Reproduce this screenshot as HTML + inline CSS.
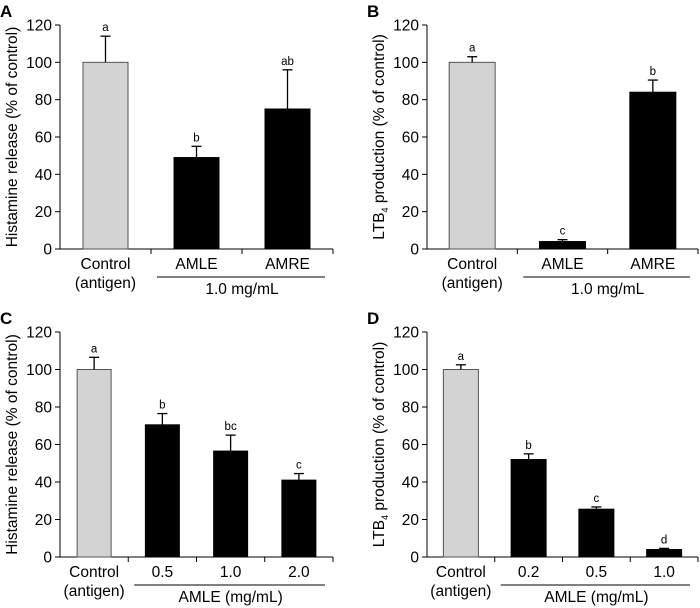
<!DOCTYPE html>
<html><head><meta charset="utf-8"><style>
html,body{margin:0;padding:0;background:#fff}
svg{display:block;font-family:"Liberation Sans",Arial,sans-serif}
</style></head><body>
<svg id="fig" width="700" height="608" viewBox="0 0 700 608" xmlns="http://www.w3.org/2000/svg"></svg>
<script>
const yTicks = [0,20,40,60,80,100,120];
const catsA = ["Control|(antigen)","AMLE","AMRE"];
const valsA = [100,49,75];
const errA = [14,6,21];
const sigA = ["a","b","ab"];
const catsB = ["Control|(antigen)","AMLE","AMRE"];
const valsB = [100,4,84];
const errB = [3,1,6.5];
const sigB = ["a","c","b"];
const catsC = ["Control|(antigen)","0.5","1.0","2.0"];
const valsC = [100,70.5,56.5,41];
const errC = [6.5,6,8.5,3.5];
const sigC = ["a","b","bc","c"];
const catsD = ["Control|(antigen)","0.2","0.5","1.0"];
const valsD = [100,52,25.5,4];
const errD = [2.5,3,1.2,0.6];
const sigD = ["a","b","c","d"];

const svg = document.getElementById('fig');
const NS = "http://www.w3.org/2000/svg";
function mk(tag, attrs, parent){ const e=document.createElementNS(NS,tag); for(const k in attrs) e.setAttribute(k,attrs[k]); (parent||svg).appendChild(e); return e; }

function panel(p){
  const g = mk('g',{});
  
  
  const y = v => p.y0 - (v/120)*(p.y0-p.y120);
  // panel letter
  const L = mk('text',{x:p.ax-60,y:p.y120-8,'font-size':17,'font-weight':'bold'},g); L.textContent=p.letter;
   
  // y axis
  const ya = mk('line',{x1:p.ax,y1:p.y120,x2:p.ax,y2:p.y0,stroke:'#000','stroke-width':1},g);
   
  yTicks.forEach(t=>{
    mk('line',{x1:p.ax-5,y1:y(t),x2:p.ax,y2:y(t),stroke:'#000'},g);
    const tx = mk('text',{x:p.ax-8,y:y(t)+5.5,'font-size':15.5,'text-anchor':'end'},g); tx.textContent=t;
     
  });
  // y title
  const yt = mk('text',{x:0,y:0,'font-size':15.5,'text-anchor':'middle',transform:`translate(${p.ax-43},${(p.y0+p.y120)/2}) rotate(-90)`},g);
   
  if(p.ltb){ yt.innerHTML='LTB<tspan font-size="9" dy="4">4</tspan><tspan dy="-4"> production (% of control)</tspan>'; }
  else yt.textContent='Histamine release (% of control)';
  // x axis
  const xa = mk('line',{x1:p.ax,y1:p.y0,x2:p.xend,y2:p.y0,stroke:'#000'},g);
   
  const n = p.cats.length, step=(p.xend-p.ax)/n;
  for(let i=1;i<=n;i++) mk('line',{x1:p.ax+i*step,y1:p.y0,x2:p.ax+i*step,y2:p.y0+5,stroke:'#000'},g);
  p.cats.forEach((c,i)=>{
    const cx = p.ax+(i+0.5)*step;
    const top = y(p.vals[i]);
    const b = mk('rect',{x:cx-p.bw/2,y:top,width:p.bw,height:p.y0-top,fill:i==0?'#d3d3d3':'#000',stroke:i==0?'#555':'#000','stroke-width':1},g);
    
    
    const et = y(p.vals[i]+p.err[i]);
    mk('line',{x1:cx,y1:top,x2:cx,y2:et,stroke:'#000','stroke-width':1.3},g);
    mk('line',{x1:cx-5,y1:et,x2:cx+5,y2:et,stroke:'#000','stroke-width':1.3},g);
    const s = mk('text',{x:cx,y:et-5,'font-size':11.5,'text-anchor':'middle'},g); s.textContent=p.sig[i];
     
    const parts=c.split('|');
    parts.forEach((t,k)=>{
      const tl = mk('text',{x:cx,y:p.y0+20+k*19,'font-size':15.5,'text-anchor':'middle'},g); tl.textContent=t;
       
    });
  });
  const ul = mk('line',{x1:p.ax+step+6,y1:p.y0+28,x2:p.xend-8,y2:p.y0+28,stroke:'#000'},g);
   
  const gl = mk('text',{x:(p.ax+step+p.xend)/2,y:p.y0+45,'font-size':15.5,'text-anchor':'middle'},g); gl.textContent=p.group;
   
}
panel({letter:'A',ax:60,xend:333,y0:249,y120:25,bw:45,cats:catsA,vals:valsA,err:errA,sig:sigA,group:'1.0 mg/mL',ltb:false});
panel({letter:'B',ax:427,xend:698,y0:249,y120:25,bw:46,cats:catsB,vals:valsB,err:errB,sig:sigB,group:'1.0 mg/mL',ltb:true});
panel({letter:'C',ax:60,xend:333,y0:557,y120:332,bw:34,cats:catsC,vals:valsC,err:errC,sig:sigC,group:'AMLE (mg/mL)',ltb:false});
panel({letter:'D',ax:427,xend:698,y0:557,y120:332,bw:35,cats:catsD,vals:valsD,err:errD,sig:sigD,group:'AMLE (mg/mL)',ltb:true});
</script>
</body></html>
